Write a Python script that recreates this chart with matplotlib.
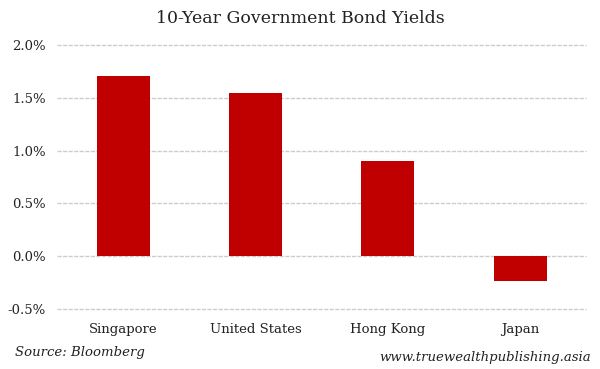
import matplotlib.pyplot as plt
from matplotlib.ticker import FuncFormatter

countries = ['Singapore', 'United States', 'Hong Kong', 'Japan']
yields = [1.71, 1.55, 0.90, -0.24]
yticks = [-0.5, 0.0, 0.5, 1.0, 1.5, 2.0]

plt.rcParams['font.family'] = ['DejaVu Serif']

fig = plt.figure(figsize=(6, 3.69), dpi=100, facecolor='white')
ax = fig.add_axes([0.095, 0.163, 0.882, 0.715])

ax.bar(range(len(countries)), yields, width=0.4, color='#C00000', zorder=3)
ax.set_xlim(-0.5, len(countries) - 0.5)
ax.set_ylim(-0.5, 2.0)
ax.set_yticks(yticks)
ax.yaxis.set_major_formatter(FuncFormatter(lambda v, p: '%.1f%%' % v))
ax.set_xticks(range(len(countries)))
ax.set_xticklabels(countries)
ax.tick_params(axis='both', length=0, labelsize=9.5, colors='#222222')
ax.tick_params(axis='x', pad=10)
ax.tick_params(axis='y', pad=8)
for t in yticks:
    ax.axhline(t, color='#cccccc', linestyle=(0, (3, 1)), linewidth=1.0,
               zorder=0, clip_on=False)
for s in ax.spines.values():
    s.set_visible(False)

fig.text(0.5, 0.95, '10-Year Government Bond Yields', ha='center', va='center',
         fontsize=12.5, color='#222222')
fig.text(0.025, 0.045, 'Source: Bloomberg', ha='left', va='center',
         fontsize=9.5, style='italic', color='#222222')
fig.text(0.985, 0.03, 'www.truewealthpublishing.asia', ha='right', va='center',
         fontsize=9.5, style='italic', color='#222222')

fig.savefig('out.png', dpi=100, facecolor='white')
